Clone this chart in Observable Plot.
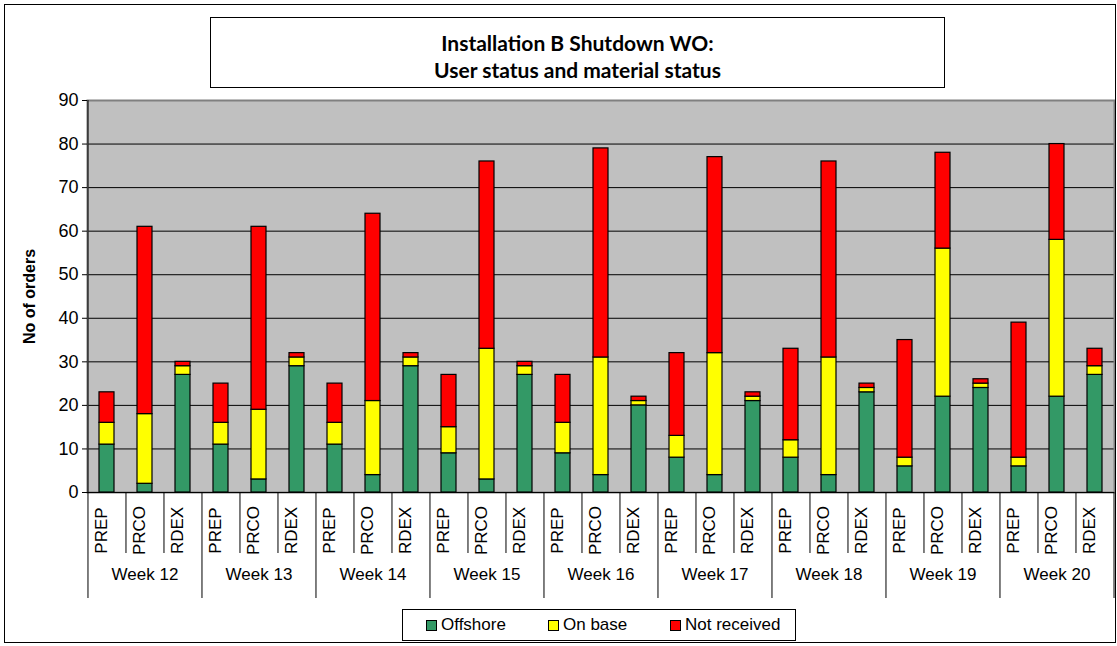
<!DOCTYPE html>
<html>
<head>
<meta charset="utf-8">
<script src="https://cdn.jsdelivr.net/npm/d3@7"></script>
<script src="https://cdn.jsdelivr.net/npm/@observablehq/plot@0.6"></script>
<style>
  html, body { margin: 0; padding: 0; background: #fff; }
  #wrap { position: relative; width: 1117px; height: 646px; overflow: hidden; font-family: "Liberation Sans", Arial, sans-serif; }
  #wrap svg { position: absolute; left: 0; top: 0; }
  #border { position: absolute; left: 4px; top: 4px; width: 1110px; height: 637px; border: 1px solid #000; pointer-events: none; }
  #title { position: absolute; left: 210px; top: 17px; width: 735px; height: 71px; border: 1px solid #000; background: #fff;
    box-sizing: border-box; padding-top: 6px;
    display: flex; flex-direction: column; justify-content: center; align-items: center;
    font-family: "Lato", "Open Sans", sans-serif; font-weight: bold; font-size: 21px; line-height: 27px; color: #000; }
  #legend { position: absolute; left: 402px; top: 609px; width: 392px; height: 30px; border: 1px solid #000; background: #fff;
    display: flex; align-items: center; font-size: 17px; color: #000; }
  .item { position: absolute; display: flex; align-items: center; }
  .sw { width: 9px; height: 9px; border: 1px solid #000; margin-right: 4px; }
</style>
</head>
<body>
<div id="wrap"></div>
<script>
const weeks = ["Week 12","Week 13","Week 14","Week 15","Week 16","Week 17","Week 18","Week 19","Week 20"];
const categories = ["PREP","PRCO","RDEX"];
const statuses = ["Offshore","On base","Not received"];
const statusColors = ["#339966","#FFFF00","#FF0000"];
// values in order week-by-week, PREP/PRCO/RDEX
const offshore    = [11,2,27, 11,3,29, 11,4,29, 9,3,27, 9,4,20, 8,4,21, 8,4,23, 6,22,24, 6,22,27];
const onBase      = [5,16,2,  5,16,2,  5,17,2,  6,30,2, 7,27,1, 5,28,1, 4,27,1, 2,34,1,  2,36,2];
const notReceived = [7,43,1,  9,42,1,  9,43,1,  12,43,1, 11,48,1, 19,45,1, 21,45,1, 27,22,1, 31,22,4];
const yTicks = [0,10,20,30,40,50,60,70,80,90];

const keys = [];
weeks.forEach(w => categories.forEach(c => keys.push(w + "|" + c)));
const series = [offshore, onBase, notReceived];
const data = [];
keys.forEach((k, i) => {
  statuses.forEach((s, j) => data.push({key: k, status: s, value: series[j][i]}));
});

const W = 1117, H = 646, ML = 87, MR = 3, MT = 100, MB = 154;
const step = (W - ML - MR) / keys.length;
const plotH = H - MT - MB;
const weekStarts = keys.filter((k, i) => i % 3 === 0);
const inner = keys.filter((k, i) => i % 3 !== 0);
const font = "Liberation Sans, Arial, sans-serif";

const chart = Plot.plot({
  width: W, height: H,
  marginLeft: ML, marginRight: MR, marginTop: MT, marginBottom: MB,
  style: {fontFamily: font, color: "#000", background: "transparent", overflow: "visible"},
  x: {type: "band", domain: keys, paddingInner: 0.6, paddingOuter: 0.3, axis: null},
  y: {domain: [0, 90], axis: null},
  color: {domain: statuses, range: statusColors},
  marks: [
    Plot.frame({fill: "#C0C0C0"}),
    Plot.gridY(yTicks, {stroke: "#000", strokeOpacity: 1, strokeWidth: 1}),
    Plot.frame({stroke: "#808080", strokeWidth: 2}),
    Plot.barY(data, {x: "key", y: "value", fill: "status", stroke: "#000", strokeWidth: 1.2}),
    Plot.ruleY([0], {stroke: "#000", strokeWidth: 1}),
    // left axis line
    Plot.ruleX([keys[0]], {dx: -step / 2, stroke: "#000", strokeWidth: 1}),
    // y ticks + labels
    Plot.axisY(yTicks, {tickSize: 5, tickPadding: 4, fontSize: 18, label: null, stroke: "#000"}),
    Plot.text(["No of orders"], {frameAnchor: "left", textAnchor: "middle", rotate: -90, dx: -58, fontWeight: "bold", fontSize: 16, fill: "#000"}),
    // category separators
    Plot.ruleX(inner, {x: d => d, dx: -step / 2, insetTop: plotH, insetBottom: -61, stroke: "#000", strokeWidth: 1}),
    // week separators
    Plot.ruleX(weekStarts, {x: d => d, dx: -step / 2, insetTop: plotH, insetBottom: -106, stroke: "#000", strokeWidth: 1}),
    Plot.ruleX([keys[keys.length - 1]], {x: d => d, dx: step / 2, insetTop: plotH, insetBottom: -106, stroke: "#000", strokeWidth: 1}),
    // category labels
    Plot.text(keys, {x: d => d, text: d => d.split("|")[1], frameAnchor: "bottom", rotate: -90, dy: 38, fontSize: 17, fill: "#000"}),
    // week labels
    Plot.text(weeks, {x: d => d + "|PRCO", text: d => d, frameAnchor: "bottom", dy: 87, fontSize: 17, fill: "#000"})
  ]
});

const wrap = document.getElementById("wrap");
wrap.appendChild(chart);

const border = document.createElement("div");
border.id = "border";
wrap.appendChild(border);

const title = document.createElement("div");
title.id = "title";
title.innerHTML = "<div>Installation B Shutdown WO:</div><div>User status and material status</div>";
wrap.appendChild(title);

const legend = document.createElement("div");
legend.id = "legend";
const lx = [23, 145, 267];
statuses.forEach((s, i) => {
  const it = document.createElement("div");
  it.className = "item";
  it.style.left = lx[i] + "px";
  it.innerHTML = `<span class="sw" style="background:${statusColors[i]}"></span><span>${s}</span>`;
  legend.appendChild(it);
});
wrap.appendChild(legend);
</script>
</body>
</html>
